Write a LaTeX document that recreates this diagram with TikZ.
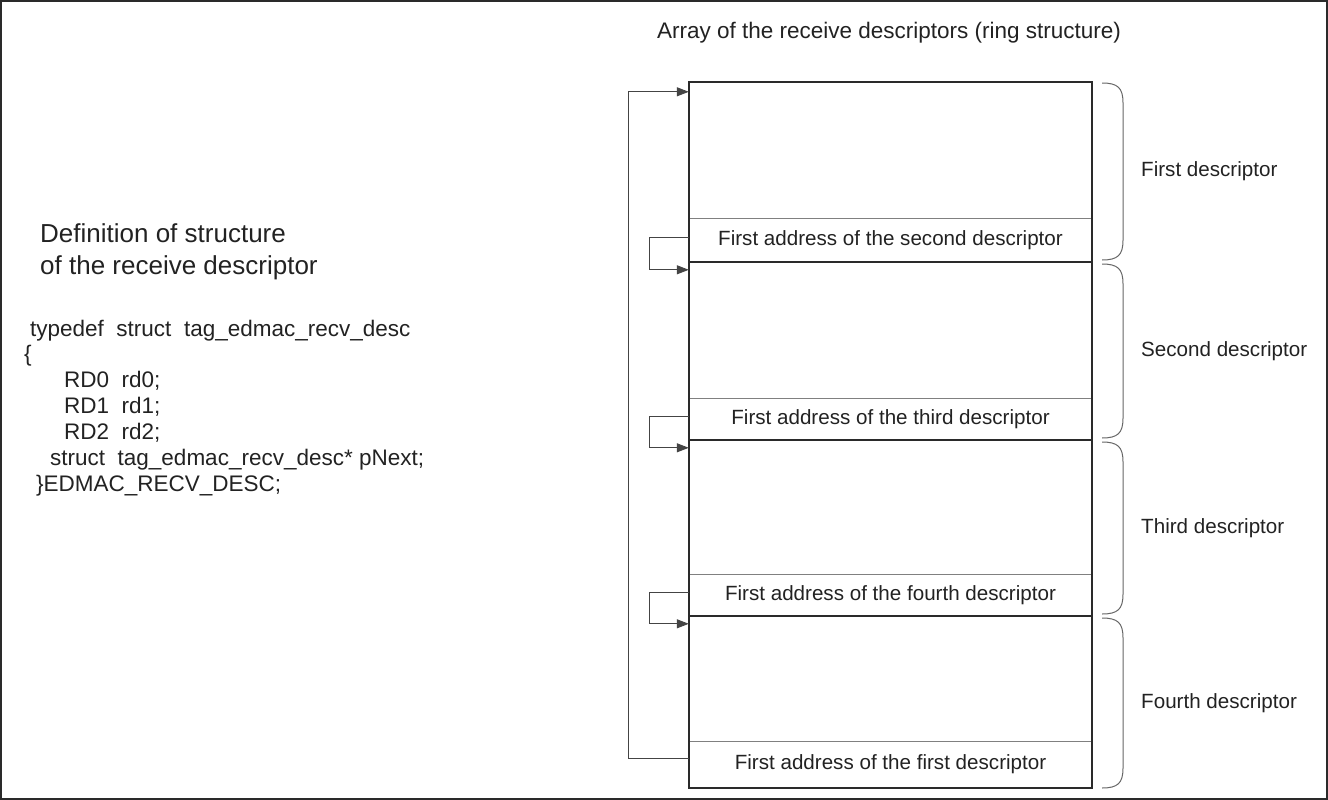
\documentclass[tikz,border=0pt]{standalone}
\usepackage{fontspec}
\setmainfont{Liberation Sans}
\usetikzlibrary{arrows.meta,calc}
\definecolor{ink}{HTML}{222222}
\definecolor{frameline}{HTML}{2A2A2A}
\definecolor{thinline}{HTML}{808080}
\definecolor{loopline}{HTML}{444444}
\definecolor{braceline}{HTML}{666666}
\begin{document}
\begin{tikzpicture}[x=1pt,y=-1pt,
  cell/.style={minimum width=403pt, inner sep=0pt, draw=none, text=ink,
               font=\fontsize{20.6}{24}\selectfont},
  lbl/.style={anchor=west, inner sep=0pt, text=ink, font=\fontsize{20.6}{24}\selectfont},
  code/.style={anchor=base west, inner sep=0pt, text=ink, font=\fontsize{22.5}{26}\selectfont},
  heavy/.style={draw=frameline, line width=2pt},
  light/.style={draw=thinline, line width=1pt},
  ring/.style={draw=loopline, line width=1pt,
               -{Triangle[length=12pt,width=9pt]}},
  brace/.style={draw=braceline, line width=1pt}]

\useasboundingbox (0,0) rectangle (1328,800);
\draw[heavy] (1,1) rectangle (1327,799);

% title of the array
\node[inner sep=0pt, text=ink, font=\fontsize{22.5}{26}\selectfont] (title) at (889,33)
  {Array of the receive descriptors (ring structure)};

% the descriptor cells, top to bottom
\node[cell, minimum height=136pt] (d1) at (890.5,150) {};
\node[cell, minimum height=44pt]  (a1) at (890.5,240) {First address of the second descriptor};
\node[cell, minimum height=136pt] (d2) at (890.5,330) {};
\node[cell, minimum height=42pt]  (a2) at (890.5,419) {First address of the third descriptor};
\node[cell, minimum height=134pt] (d3) at (890.5,507) {};
\node[cell, minimum height=42pt]  (a3) at (890.5,595) {First address of the fourth descriptor};
\node[cell, minimum height=125pt] (d4) at (890.5,678.5) {};
\node[cell, minimum height=47pt]  (a4) at (890.5,764.5) {First address of the first descriptor};

% separators
\draw[light] (d1.south west) -- (d1.south east);
\draw[light] (d2.south west) -- (d2.south east);
\draw[light] (d3.south west) -- (d3.south east);
\draw[light] (d4.south west) -- (d4.south east);
\draw[heavy] (a1.south west) -- (a1.south east);
\draw[heavy] (a2.south west) -- (a2.south east);
\draw[heavy] (a3.south west) -- (a3.south east);
\draw[heavy] (d1.north west) rectangle (a4.south east);

% links to the next descriptor
\draw[ring] ($(a1.west)+(0,-3)$) -- ++(-39,0) |- ($(d2.north west)+(0,8)$);
\draw[ring] ($(a2.west)+(0,-3)$) -- ++(-39,0) |- ($(d3.north west)+(0,8)$);
\draw[ring] ($(a3.west)+(0,-3)$) -- ++(-39,0) |- ($(d4.north west)+(0,8)$);
\draw[ring] ($(a4.west)+(0,-6)$) -- ++(-60,0) |- ($(d1.north west)+(0,10)$);

% braces grouping each descriptor
\foreach \top/\bot/\nm/\txt in {83/260/g1/First, 264/438/g2/Second,
                               442/614/g3/Third, 618/788/g4/Fourth}{
  \draw[brace] (1102,\top) .. controls (1118,\top) and (1123,\top+5) .. (1123,\top+20)
               -- (1123,\bot-20) .. controls (1123,\bot-5) and (1118,\bot) .. (1102,\bot);
  \node[lbl] (\nm) at (1141,{(\top+\bot)/2}) {\txt\ descriptor};
}

% structure definition
\node[code, font=\fontsize{26}{30}\selectfont] (h1) at (40,242) {Definition of structure};
\node[code, font=\fontsize{26}{30}\selectfont] (h2) at (40,274) {of the receive descriptor};
\node[code] (c1) at (30,336) {typedef\ \ struct\ \ tag\_edmac\_recv\_desc};
\node[code] (c2) at (24,361) {\{};
\node[code] (c3) at (64,387) {RD0\ \ rd0;};
\node[code] (c4) at (64,413) {RD1\ \ rd1;};
\node[code] (c5) at (64,439) {RD2\ \ rd2;};
\node[code] (c6) at (50,465) {struct\ \ tag\_edmac\_recv\_desc* pNext;};
\node[code] (c7) at (36,491) {\}EDMAC\_RECV\_DESC;};
\end{tikzpicture}
\end{document}
